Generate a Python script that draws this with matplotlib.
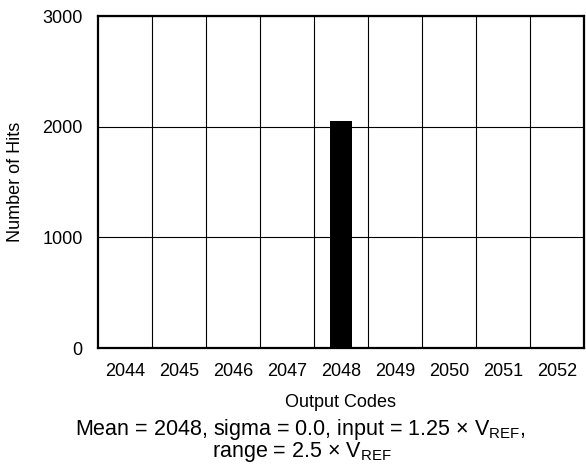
import numpy as np
import matplotlib.pyplot as plt

plt.rcParams['font.family'] = ['Liberation Sans', 'DejaVu Sans']

codes = [2044, 2045, 2046, 2047, 2048, 2049, 2050, 2051, 2052]
hits = [0, 0, 0, 0, 2048, 0, 0, 0, 0]

fig = plt.figure(figsize=(5.86, 4.68), dpi=100)
ax = fig.add_axes([0.1672, 0.2564, 0.9966 - 0.1672, 0.9658 - 0.2564])

ax.bar(codes, hits, width=0.41, color='black', zorder=3)

ax.set_xlim(codes[0] - 0.5, codes[-1] + 0.5)
ax.set_ylim(0, 3000)
ax.set_xticks(codes)
ax.set_yticks([0, 1000, 2000, 3000])
ax.set_xticks(np.array(codes[:-1]) + 0.5, minor=True)

ax.grid(which='minor', axis='x', color='black', linewidth=0.8)
ax.grid(which='major', axis='y', color='black', linewidth=0.8)
ax.tick_params(which='both', length=0)
ax.tick_params(axis='x', labelsize=13, pad=11)
ax.tick_params(axis='y', labelsize=13, pad=11)
for s in ax.spines.values():
    s.set_linewidth(1.6)

ax.set_xlabel('Output Codes', fontsize=13, labelpad=10)
ax.set_ylabel('Number of Hits', fontsize=13, labelpad=13)

fig.text(0.512, 0.083, 'Mean = 2048, sigma = 0.0, input = 1.25 \u00d7 V$_{\\mathregular{REF}}$,',
         ha='center', va='center', fontsize=15.5)
fig.text(0.515, 0.034, 'range = 2.5 \u00d7 V$_{\\mathregular{REF}}$',
         ha='center', va='center', fontsize=15.5)

fig.savefig('out.png', dpi=100)
